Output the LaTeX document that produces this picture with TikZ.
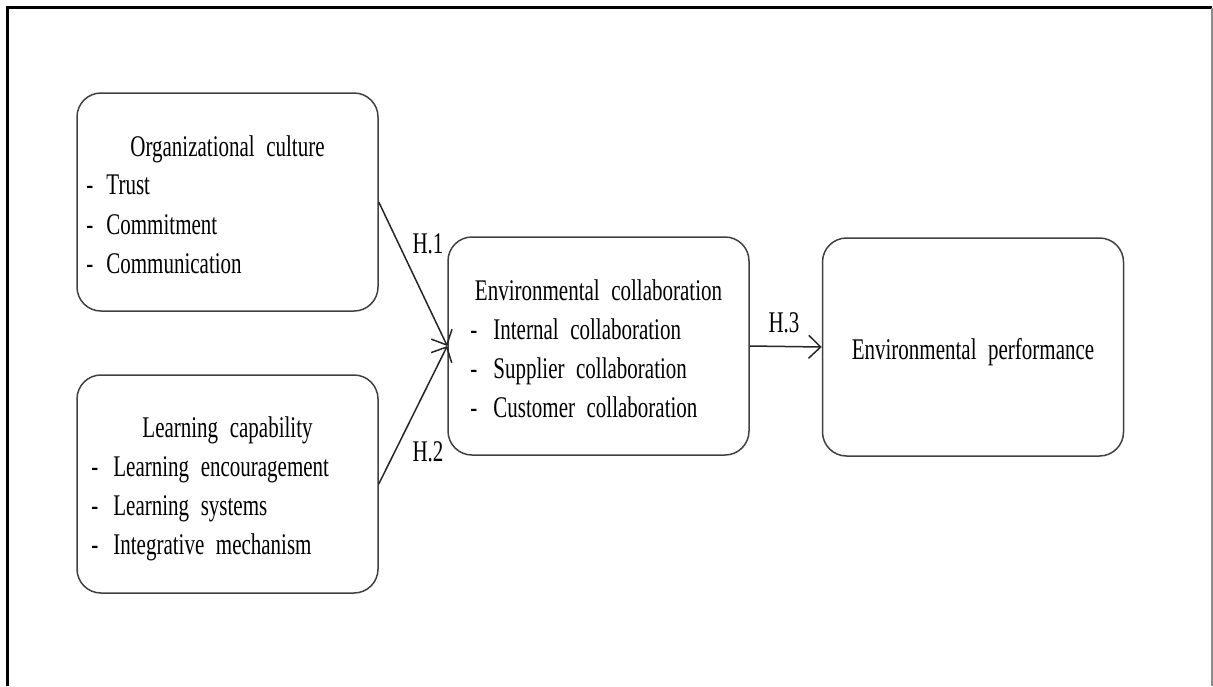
\documentclass[tikz,border=0pt]{standalone}
\usepackage{fontspec}
\setmainfont[FakeStretch=0.70,WordSpace=2.2]{Liberation Serif}
\usepackage{tikz}
\usetikzlibrary{positioning,arrows.meta}

\begin{document}
\begin{tikzpicture}[x=0.5pt, y=-0.5pt,
  box/.style={draw=black!75, line width=0.75pt, rounded corners=12pt, minimum width=150.5pt, minimum height=109pt, inner sep=0pt},
  txt/.style={inner sep=0pt, font=\fontsize{15}{19.5}\selectfont},
  link/.style={draw=black!85, line width=0.75pt, -{Straight Barb[length=6pt, width=11.5pt]}}]
  \useasboundingbox (0,0) rectangle (1213,686);

  % Frame
  \draw[line width=1.5pt] (7,686) -- (7,7.5) -- (1212,7.5);
  \draw[black!45, line width=0.6pt] (1212,7.5) -- (1212,686);

  % Boxes
  \node[box] (culture) at (227.5,202) {};
  \node[box] (learning) at (227.5,484) {};
  \node[box] (collab) at (598.5,346) {};
  \node[box] (perf) at (973,347) {};

  % Organizational culture
  \node[txt, anchor=base] (cultureT) at (227.5,156) {Organizational culture};
  \node[txt, anchor=base west] (cultureA) at (86,194) {\makebox[10pt][l]{-}Trust};
  \node[txt, anchor=base west] (cultureB) at (86,234) {\makebox[10pt][l]{-}Commitment};
  \node[txt, anchor=base west] (cultureC) at (86,273) {\makebox[10pt][l]{-}Communication};

  % Learning capability
  \node[txt, anchor=base] (learningT) at (227.5,437) {Learning capability};
  \node[txt, anchor=base west] (learningA) at (91,476) {\makebox[11pt][l]{-}Learning encouragement};
  \node[txt, anchor=base west] (learningB) at (91,515) {\makebox[11pt][l]{-}Learning systems};
  \node[txt, anchor=base west] (learningC) at (91,554) {\makebox[11pt][l]{-}Integrative mechanism};

  % Environmental collaboration
  \node[txt, anchor=base] (collabT) at (598.5,300) {Environmental collaboration};
  \node[txt, anchor=base west] (collabA) at (470,339) {\makebox[11.5pt][l]{-}Internal collaboration};
  \node[txt, anchor=base west] (collabB) at (470,378) {\makebox[11.5pt][l]{-}Supplier collaboration};
  \node[txt, anchor=base west] (collabC) at (470,417) {\makebox[11.5pt][l]{-}Customer collaboration};

  % Environmental performance
  \node[txt, anchor=base] (perfT) at (973,359) {Environmental performance};

  % Hypotheses
  \draw[link] (culture.east) -- (collab.west);
  \draw[link] (learning.east) -- (collab.west);
  \draw[link] (collab.east) -- (perf.west);
  \node[txt] (h1) at (428,244) {H.1};
  \node[txt] (h2) at (428,452) {H.2};
  \node[txt] (h3) at (784,323) {H.3};
\end{tikzpicture}
\end{document}
